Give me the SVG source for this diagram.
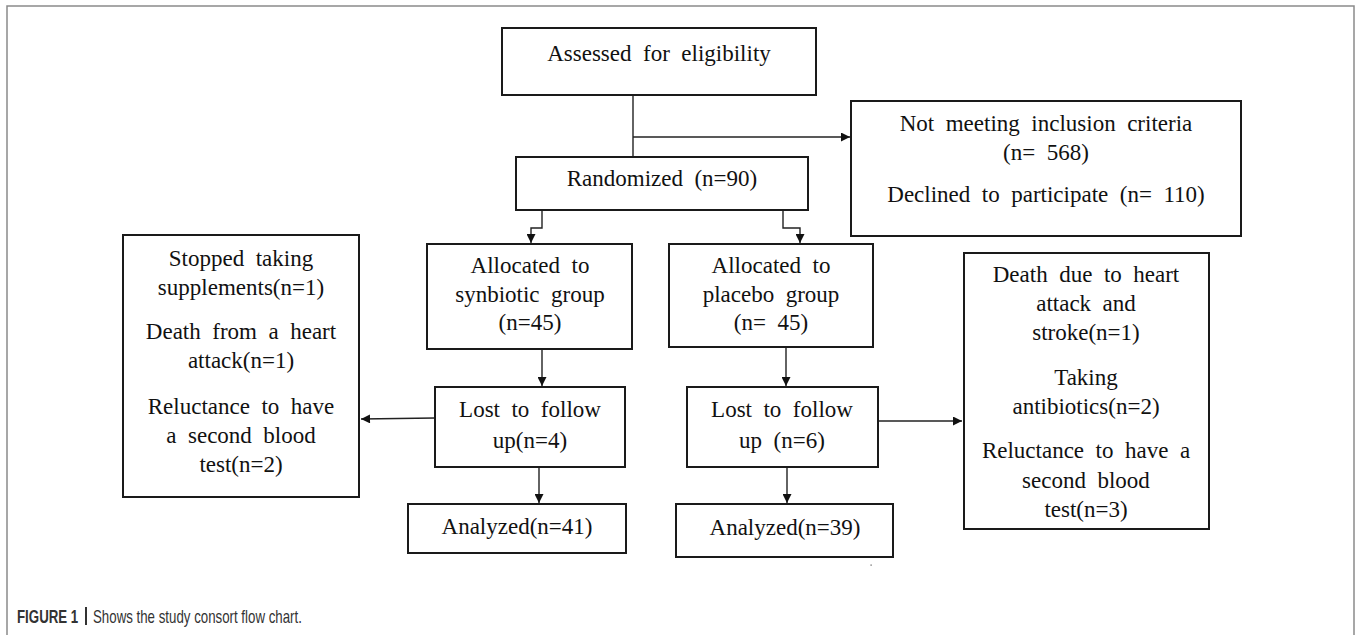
<svg xmlns="http://www.w3.org/2000/svg" width="1358" height="635" viewBox="0 0 1358 635">
<style>
.box{fill:#fff;stroke:#1a1a1a;stroke-width:2}
.t{font-family:"Liberation Serif","Times New Roman",serif;font-size:23px;fill:#111;text-anchor:middle;white-space:pre}
.c{fill:none;stroke:#222;stroke-width:1.4}
.frame{fill:none;stroke:#8a8a8a;stroke-width:1.5}
.cap{font-family:"Liberation Sans",Arial,sans-serif;font-size:19px;fill:#333}
</style>
<defs>
<marker id="ah" viewBox="0 0 10 10" refX="10" refY="5" markerWidth="10" markerHeight="9" markerUnits="userSpaceOnUse" orient="auto">
<path d="M0,0 L10,5 L0,10 Z" fill="#111"/>
</marker>
</defs>
<rect x="0" y="0" width="1358" height="635" fill="#fff"/>
<path class="frame" d="M7,640 V6 H1354 V640"/>

<g id="connectors">
<path class="c" d="M633,95 V157"/>
<path class="c" d="M633,137 H850" marker-end="url(#ah)"/>
<path class="c" d="M542,210 V228 H531 V243" marker-end="url(#ah)"/>
<path class="c" d="M783,210 V228 H800 V243" marker-end="url(#ah)"/>
<path class="c" d="M542,349 V386" marker-end="url(#ah)"/>
<path class="c" d="M786,347 V386" marker-end="url(#ah)"/>
<path class="c" d="M539,467 V503" marker-end="url(#ah)"/>
<path class="c" d="M787,467 V503" marker-end="url(#ah)"/>
<path class="c" d="M435,418 L361,419" marker-end="url(#ah)"/>
<path class="c" d="M878,421 H962" marker-end="url(#ah)"/>
</g>

<g id="assessed">
<rect class="box" x="502" y="28" width="314" height="67"/>
<text class="t" x="659" y="61">Assessed  for  eligibility</text>
</g>

<g id="excluded">
<rect class="box" x="851" y="101" width="390" height="135"/>
<text class="t" x="1046" y="131">Not  meeting  inclusion  criteria</text>
<text class="t" x="1046" y="160">(n=  568)</text>
<text class="t" x="1046" y="202">Declined  to  participate  (n=  110)</text>
</g>

<g id="randomized">
<rect class="box" x="516" y="157" width="292" height="53"/>
<text class="t" x="662" y="186">Randomized  (n=90)</text>
</g>

<g id="alloc-synbiotic">
<rect class="box" x="427" y="244" width="205" height="105"/>
<text class="t" x="530" y="273">Allocated  to</text>
<text class="t" x="530" y="302">synbiotic  group</text>
<text class="t" x="530" y="330">(n=45)</text>
</g>

<g id="alloc-placebo">
<rect class="box" x="669" y="244" width="204" height="103"/>
<text class="t" x="771" y="273">Allocated  to</text>
<text class="t" x="771" y="302">placebo  group</text>
<text class="t" x="771" y="330">(n=  45)</text>
</g>

<g id="lost-synbiotic">
<rect class="box" x="435" y="387" width="190" height="80"/>
<text class="t" x="530" y="417">Lost  to  follow</text>
<text class="t" x="530" y="448">up(n=4)</text>
</g>

<g id="lost-placebo">
<rect class="box" x="687" y="387" width="191" height="80"/>
<text class="t" x="782" y="417">Lost  to  follow</text>
<text class="t" x="782" y="448">up  (n=6)</text>
</g>

<g id="reasons-synbiotic">
<rect class="box" x="123" y="235" width="236" height="262"/>
<text class="t" x="241" y="266">Stopped  taking</text>
<text class="t" x="241" y="295">supplements(n=1)</text>
<text class="t" x="241" y="339">Death  from  a  heart</text>
<text class="t" x="241" y="368">attack(n=1)</text>
<text class="t" x="241" y="414">Reluctance  to  have</text>
<text class="t" x="241" y="443">a  second  blood</text>
<text class="t" x="241" y="472">test(n=2)</text>
</g>

<g id="reasons-placebo">
<rect class="box" x="964" y="253" width="245" height="276"/>
<text class="t" x="1086" y="282">Death  due  to  heart</text>
<text class="t" x="1086" y="311">attack  and</text>
<text class="t" x="1086" y="340">stroke(n=1)</text>
<text class="t" x="1086" y="385">Taking</text>
<text class="t" x="1086" y="414">antibiotics(n=2)</text>
<text class="t" x="1086" y="458">Reluctance  to  have  a</text>
<text class="t" x="1086" y="488">second  blood</text>
<text class="t" x="1086" y="517">test(n=3)</text>
</g>

<g id="analyzed-synbiotic">
<rect class="box" x="408" y="504" width="218" height="49"/>
<text class="t" x="517" y="534">Analyzed(n=41)</text>
</g>

<g id="analyzed-placebo">
<rect class="box" x="676" y="504" width="217" height="53"/>
<text class="t" x="785" y="535">Analyzed(n=39)</text>
</g>

<rect x="870.5" y="564.5" width="1.2" height="1.2" fill="#555"/>

<g id="caption">
<text class="cap" transform="translate(17,623) scale(0.7,1)" font-weight="bold">FIGURE 1</text>
<rect x="85" y="607" width="2" height="18" fill="#333"/>
<text class="cap" transform="translate(93,623) scale(0.7,1)">Shows the study consort flow chart.</text>
</g>
</svg>
